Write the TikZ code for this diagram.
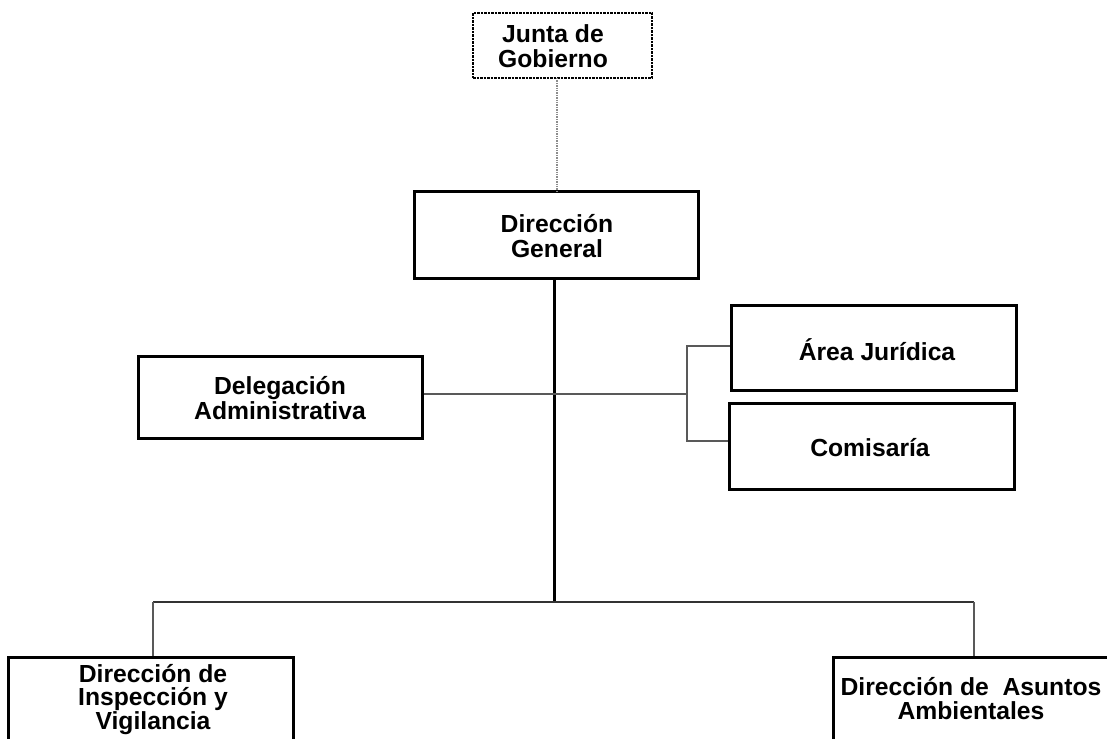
\documentclass[tikz,border=0pt]{standalone}
\usepackage{fontspec}
\setmainfont{Liberation Sans}
\begin{document}
\begin{tikzpicture}[x=1pt,y=-1pt,
  box/.style={draw=black,line width=3pt,rectangle,inner sep=0pt},
  jbox/.style={draw=black,line width=2.5pt,densely dotted,rectangle,inner sep=0pt},
  txt/.style={align=center,font=\fontsize{24.7}{24.5}\selectfont\bfseries,inner sep=0pt},
  tighttxt/.style={txt,font=\fontsize{24.7}{23.5}\selectfont\bfseries},
  thick line/.style={draw=black,line width=3pt},
  mid line/.style={draw=black!80,line width=2pt},
  thin line/.style={draw=black!65,line width=1.6pt},
  faint line/.style={draw=black!45,line width=1.4pt,densely dotted}]
\useasboundingbox (0,0) rectangle (1107,738);
% boxes
\node[jbox,minimum width=179pt,minimum height=65pt] (junta) at (562.5,45.5) {};
\node[txt] (juntat) at (553,46) {Junta de\\Gobierno};
\node[box,minimum width=284pt,minimum height=87pt] (dg) at (556,234.5) {};
\node[txt] (dgt) at (557,236) {Dirección\\General};
\node[box,minimum width=284pt,minimum height=82pt] (del) at (280,397) {};
\node[txt] (delt) at (280,398) {Delegación\\Administrativa};
\node[box,minimum width=285pt,minimum height=85pt] (area) at (873.5,347.5) {};
\node[txt] (areat) at (877,350) {Área Jurídica};
\node[box,minimum width=285pt,minimum height=86pt] (com) at (871.5,446) {};
\node[txt] (comt) at (870,448) {Comisaría};
\node[box,minimum width=285pt,minimum height=113pt] (dir) at (150.5,713.5) {};
\node[tighttxt,anchor=north] (dirt) at (153,664) {Dirección de\\Inspección y\\Vigilancia};
\node[box,minimum width=287pt,minimum height=113pt] (das) at (976.5,713.5) {};
\node[txt,anchor=north] (dast) at (971,677) {Dirección de~ Asuntos\\Ambientales};
% connectors
\coordinate (jb) at (557,78);
\coordinate (dgn) at (557,191);
\draw[faint line] (jb) -- (dgn);
\coordinate (hb) at (554,602);
\draw[thick line] (dg.south -| hb) -- (hb);
\coordinate (hl) at (153,602);
\coordinate (hr) at (974,602);
\draw[mid line] (hl) -- (hr);
\draw[thin line] (hl) -- (hl |- dir.north);
\draw[thin line] (hr) -- (hr |- das.north);
\coordinate (br) at (687,394);
\draw[thin line] (del.east |- br) -- (br);
\coordinate (bt) at (687,346);
\coordinate (bb) at (687,441);
\draw[thin line] (area.west |- bt) -- (bt) -- (bb) -- (com.west |- bb);
\end{tikzpicture}
\end{document}
